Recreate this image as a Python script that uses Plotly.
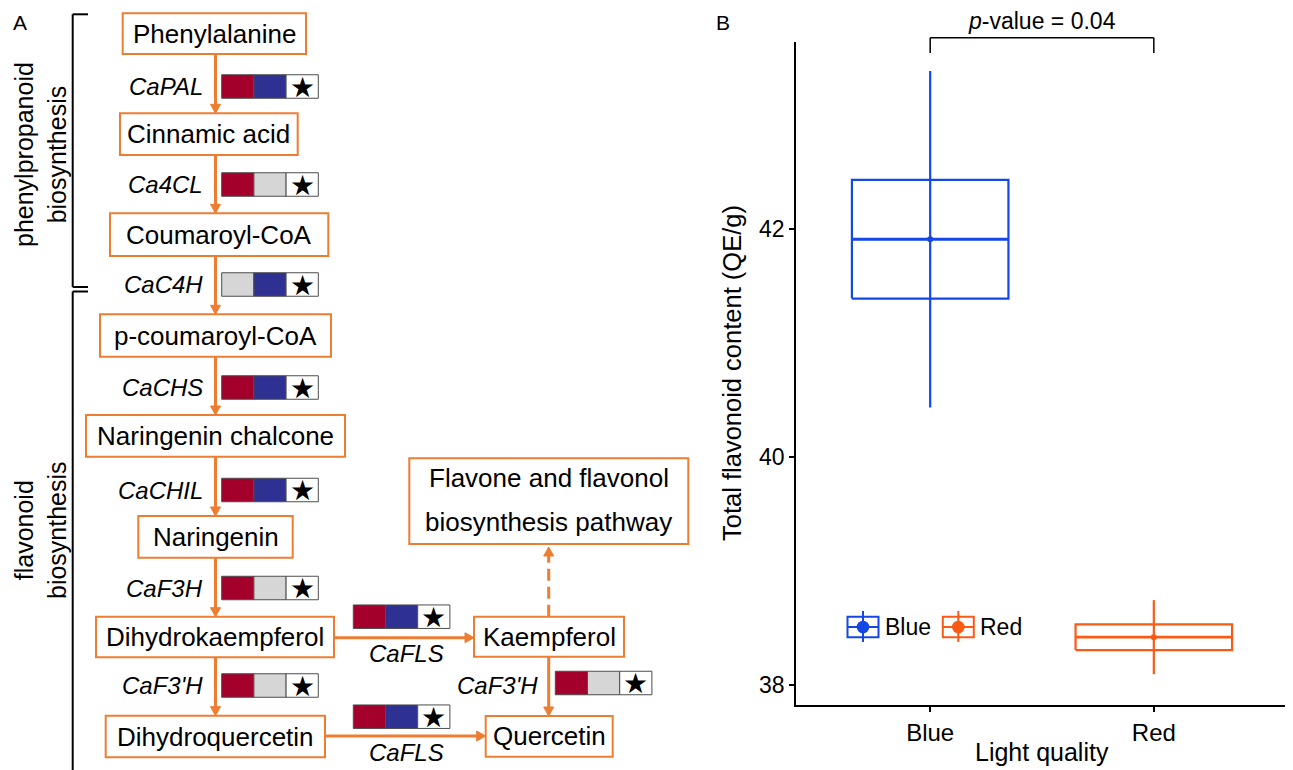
import plotly.graph_objects as go

# ---------------- DATA ----------------
# Panel B: total flavonoid content by light quality
groups = ["Blue", "Red"]
group_means = [41.91, 38.42]
box_half = [0.52, 0.113]        # half-height of the box
whisker_half = [1.475, 0.325]   # half-length of the whisker
y_tick_vals = [38, 40, 42]
p_value_label = "0.04"

# Panel A: pathway compounds and gene expression patterns
compounds = ["Phenylalanine", "Cinnamic acid", "Coumaroyl-CoA", "p-coumaroyl-CoA",
             "Naringenin chalcone", "Naringenin", "Dihydrokaempferol", "Dihydroquercetin",
             "Kaempferol", "Quercetin", "Flavone and flavonol<br>biosynthesis pathway"]
genes = ["CaPAL", "Ca4CL", "CaC4H", "CaCHS", "CaCHIL", "CaF3H", "CaF3'H",
         "CaFLS", "CaF3'H", "CaFLS"]
red_up = [1, 1, 0, 1, 1, 1, 1, 1, 1, 1]
blue_up = [1, 0, 1, 1, 1, 0, 0, 1, 0, 1]
significant = [1, 1, 1, 1, 1, 1, 1, 1, 1, 1]

# ---------------- STYLE / LAYOUT ----------------
PAGE_W, PAGE_H = 1293, 770
OFF = 8                      # default page margin of the html body
W, H = PAGE_W - OFF, PAGE_H - OFF
FONT = "Liberation Sans, Arial, sans-serif"
ORANGE = "#ED7D31"
CELL_RED = "#A3002B"
CELL_BLUE = "#2E3192"
CELL_GRAY = "#D6D6D6"
GROUP_COLORS = ["#1447E6", "#FA5A14"]

# compound box positions (pixel layout of the diagram)
box_pos = [
    (122.7, 13.3, 306.0, 54.0),
    (120.0, 113.3, 297.7, 155.0),
    (110.0, 213.3, 328.3, 256.0),
    (100.0, 314.3, 331.0, 356.7),
    (86.0, 415.0, 345.0, 456.7),
    (138.3, 516.0, 292.7, 557.7),
    (96.0, 616.7, 334.0, 657.3),
    (105.7, 715.7, 325.0, 757.3),
    (474.0, 616.7, 624.0, 656.7),
    (485.7, 716.0, 612.7, 756.7),
    (409.3, 458.3, 688.3, 544.0),
]
# gene strip positions: (strip x0, strip center y, label x, label y, label anchor)
strip_pos = [
    (221.7, 86.5, 204, 86.5, "right"),
    (221.7, 184.5, 204, 184.5, "right"),
    (221.7, 284.5, 204, 284.5, "right"),
    (221.7, 387.5, 204, 387.5, "right"),
    (221.7, 490.0, 204, 490.0, "right"),
    (221.7, 588.0, 204, 588.0, "right"),
    (221.7, 685.5, 204, 685.5, "right"),
    (353.3, 616.7, 406, 653.3, "center"),
    (555.3, 683.0, 539, 685.0, "right"),
    (353.3, 716.7, 406, 752.7, "center"),
]
CELL_W = 32.2
CELL_H = 23.5

fig = go.Figure()

# ---------------- PANEL B traces ----------------
HW = 0.35
for i, g in enumerate(groups):
    c = i + 1
    m, b, w = group_means[i], box_half[i], whisker_half[i]
    col = GROUP_COLORS[i]
    fig.add_trace(go.Scatter(x=[c, c], y=[m - w, m + w], mode="lines",
                             line=dict(color=col, width=2.2), showlegend=False, hoverinfo="skip"))
    fig.add_trace(go.Scatter(x=[c - HW, c + HW, c + HW, c - HW, c - HW],
                             y=[m - b, m - b, m + b, m + b, m - b], mode="lines",
                             line=dict(color=col, width=2.2), showlegend=False, hoverinfo="skip"))
    fig.add_trace(go.Scatter(x=[c - HW, c + HW], y=[m, m], mode="lines",
                             line=dict(color=col, width=2.8), showlegend=False, hoverinfo="skip"))
    fig.add_trace(go.Scatter(x=[c], y=[m], mode="markers",
                             marker=dict(color=col, size=6), showlegend=False, hoverinfo="skip"))

# dummy trace for the pixel-space overlay axes
fig.add_trace(go.Scatter(x=[OFF + 1], y=[OFF + 1], xaxis="x2", yaxis="y2", mode="markers",
                         marker=dict(opacity=0), showlegend=False, hoverinfo="skip"))

shapes = []
annotations = []


def px_rect(x0, y0, x1, y1, line_color, fill="rgba(0,0,0,0)", width=2):
    shapes.append(dict(type="rect", xref="x2", yref="y2", x0=x0, y0=y0, x1=x1, y1=y1,
                       line=dict(color=line_color, width=width), fillcolor=fill, layer="above"))


def px_line(x0, y0, x1, y1, color, width=3, dash="solid", xref="x2"):
    shapes.append(dict(type="line", xref=xref, yref="y2", x0=x0, y0=y0, x1=x1, y1=y1,
                       line=dict(color=color, width=width, dash=dash), layer="above"))


def arrowhead(x, y, direction, color=ORANGE, L=9, half=5):
    if direction == "down":
        p = f"M {x - half},{y - L} L {x + half},{y - L} L {x},{y} Z"
    elif direction == "up":
        p = f"M {x - half},{y + L} L {x + half},{y + L} L {x},{y} Z"
    else:
        p = f"M {x - L},{y - half} L {x - L},{y + half} L {x},{y} Z"
    shapes.append(dict(type="path", xref="x2", yref="y2", path=p, fillcolor=color,
                       line=dict(color=color, width=1), layer="above"))


def text(x, y, s, size, xanchor="center", yanchor="middle", angle=0, color="black",
         family=FONT, xref="x2"):
    annotations.append(dict(x=x, y=y, xref=xref, yref="y2", text=s, showarrow=False,
                            xanchor=xanchor, yanchor=yanchor, textangle=angle,
                            font=dict(family=family, size=size, color=color), borderpad=0))


# ---------------- PANEL A ----------------
# brackets
px_line(72.7, 14.3, 72.7, 287, "black", 2)
px_line(72.7, 14.3, 88, 14.3, "black", 2)
px_line(72.7, 287, 88, 287, "black", 2)
px_line(72.7, 291.5, 72.7, 775, "black", 2)
px_line(72.7, 291.5, 88, 291.5, "black", 2)
text(40, 155, "phenylpropanoid<br>biosynthesis", 25, angle=-90)
text(40, 530, "flavonoid<br>biosynthesis", 25, angle=-90)
text(20, 22, "A", 21)
text(723, 22, "B", 21)

# main chain arrows
XC = 215.5
for k in range(7):
    y_from = box_pos[k][3]
    y_to = box_pos[k + 1][1]
    px_line(XC, y_from, XC, y_to - 8, ORANGE, 3)
    arrowhead(XC, y_to, "down")
# side arrows
px_line(334.0, 637.7, 466, 637.7, ORANGE, 3)
arrowhead(474.0, 637.7, "right")
px_line(325.0, 736.0, 478, 736.0, ORANGE, 3)
arrowhead(485.7, 736.0, "right")
px_line(548.7, 656.7, 548.7, 708, ORANGE, 3)
arrowhead(548.7, 716.0, "down")
px_line(548.7, 616.7, 548.7, 556, ORANGE, 3, dash="12px,6px")
arrowhead(548.7, 547.0, "up")

# compound boxes
for name, (x0, y0, x1, y1) in zip(compounds, box_pos):
    px_rect(x0, y0, x1, y1, ORANGE, fill="white", width=2)
    if "<br>" in name:
        for j, line in enumerate(name.split("<br>")):
            text((x0 + x1) / 2, y0 + 19.5 + j * 44.4, line, 26)
    else:
        text((x0 + x1) / 2, (y0 + y1) / 2, name, 26)

# gene strips + labels
for gname, r, bl, st, (sx, sy, lx, ly, la) in zip(genes, red_up, blue_up, significant, strip_pos):
    y0, y1 = sy - CELL_H / 2, sy + CELL_H / 2
    c1 = CELL_RED if r else CELL_GRAY
    c2 = CELL_BLUE if bl else CELL_GRAY
    px_rect(sx, y0, sx + CELL_W, y1, "#4d4d4d", fill=c1, width=1)
    px_rect(sx + CELL_W, y0, sx + 2 * CELL_W, y1, "#4d4d4d", fill=c2, width=1)
    px_rect(sx + 2 * CELL_W, y0, sx + 3 * CELL_W, y1, "#4d4d4d", fill="white", width=1)
    if st:
        text(sx + 2.5 * CELL_W, sy + 0.5, "★", 28, family="DejaVu Sans, sans-serif")
    text(lx, ly, f"<i>{gname}</i>", 24, xanchor=la)

# ---------------- PANEL B decorations ----------------
# significance bracket (x in category coordinates)
px_line(1, 53, 1, 37.7, "black", 1.5, xref="x")
px_line(1, 37.7, 2, 37.7, "black", 1.5, xref="x")
px_line(2, 37.7, 2, 53, "black", 1.5, xref="x")
text(1.5, 21, f"<i>p</i>-value = {p_value_label}", 23, xref="x")

# axis titles
text(732, 373, "Total flavonoid content (QE/g)", 25.5, angle=-90)
text(1042, 752, "Light quality", 25)

# legend
leg_x = [863.0, 958.3]
for g, col, cx in zip(groups, GROUP_COLORS, leg_x):
    cy = 627
    px_rect(cx - 15.5, cy - 10.3, cx + 15.5, cy + 10.3, col, width=2)
    px_line(cx - 15.5, cy, cx + 15.5, cy, col, 2)
    px_line(cx, cy - 16, cx, cy + 15, col, 2)
    shapes.append(dict(type="circle", xref="x2", yref="y2", x0=cx - 6.3, x1=cx + 6.3,
                       y0=cy - 6.3, y1=cy + 6.3, fillcolor=col, line=dict(color=col, width=0),
                       layer="above"))
    text(cx + 21, cy, g, 23, xanchor="left")

# panel B plotting area in page pixels
X0, X1 = 796, 1288
Y_TOP, Y_BOT = 42, 705
fig.update_layout(
    width=W, height=H,
    margin=dict(l=0, r=0, t=0, b=0),
    paper_bgcolor="white", plot_bgcolor="rgba(0,0,0,0)",
    showlegend=False,
    font=dict(family=FONT, color="black"),
    xaxis=dict(domain=[(X0 - OFF) / W, (X1 - OFF) / W], range=[0.4, 2.6], tickvals=[1, 2],
               ticktext=groups,
               showline=True, linecolor="black", linewidth=1.8, ticks="outside", ticklen=5,
               tickwidth=1.5, tickcolor="black", showgrid=False, zeroline=False,
               tickfont=dict(size=24, color="black", family=FONT), anchor="y"),
    yaxis=dict(domain=[1 - (Y_BOT - OFF) / H, 1 - (Y_TOP - OFF) / H], range=[37.825, 43.64],
               tickvals=y_tick_vals, showline=True, linecolor="black", linewidth=1.8,
               ticks="outside", ticklen=5, tickwidth=1.5, tickcolor="black",
               showgrid=False, zeroline=False,
               tickfont=dict(size=23, color="black", family=FONT), anchor="x"),
    xaxis2=dict(domain=[0, 1], range=[OFF, PAGE_W], visible=False, fixedrange=True, anchor="y2"),
    yaxis2=dict(domain=[0, 1], range=[PAGE_H, OFF], visible=False, fixedrange=True, anchor="x2"),
    shapes=shapes,
    annotations=annotations,
)

fig.write_html("out.html")
